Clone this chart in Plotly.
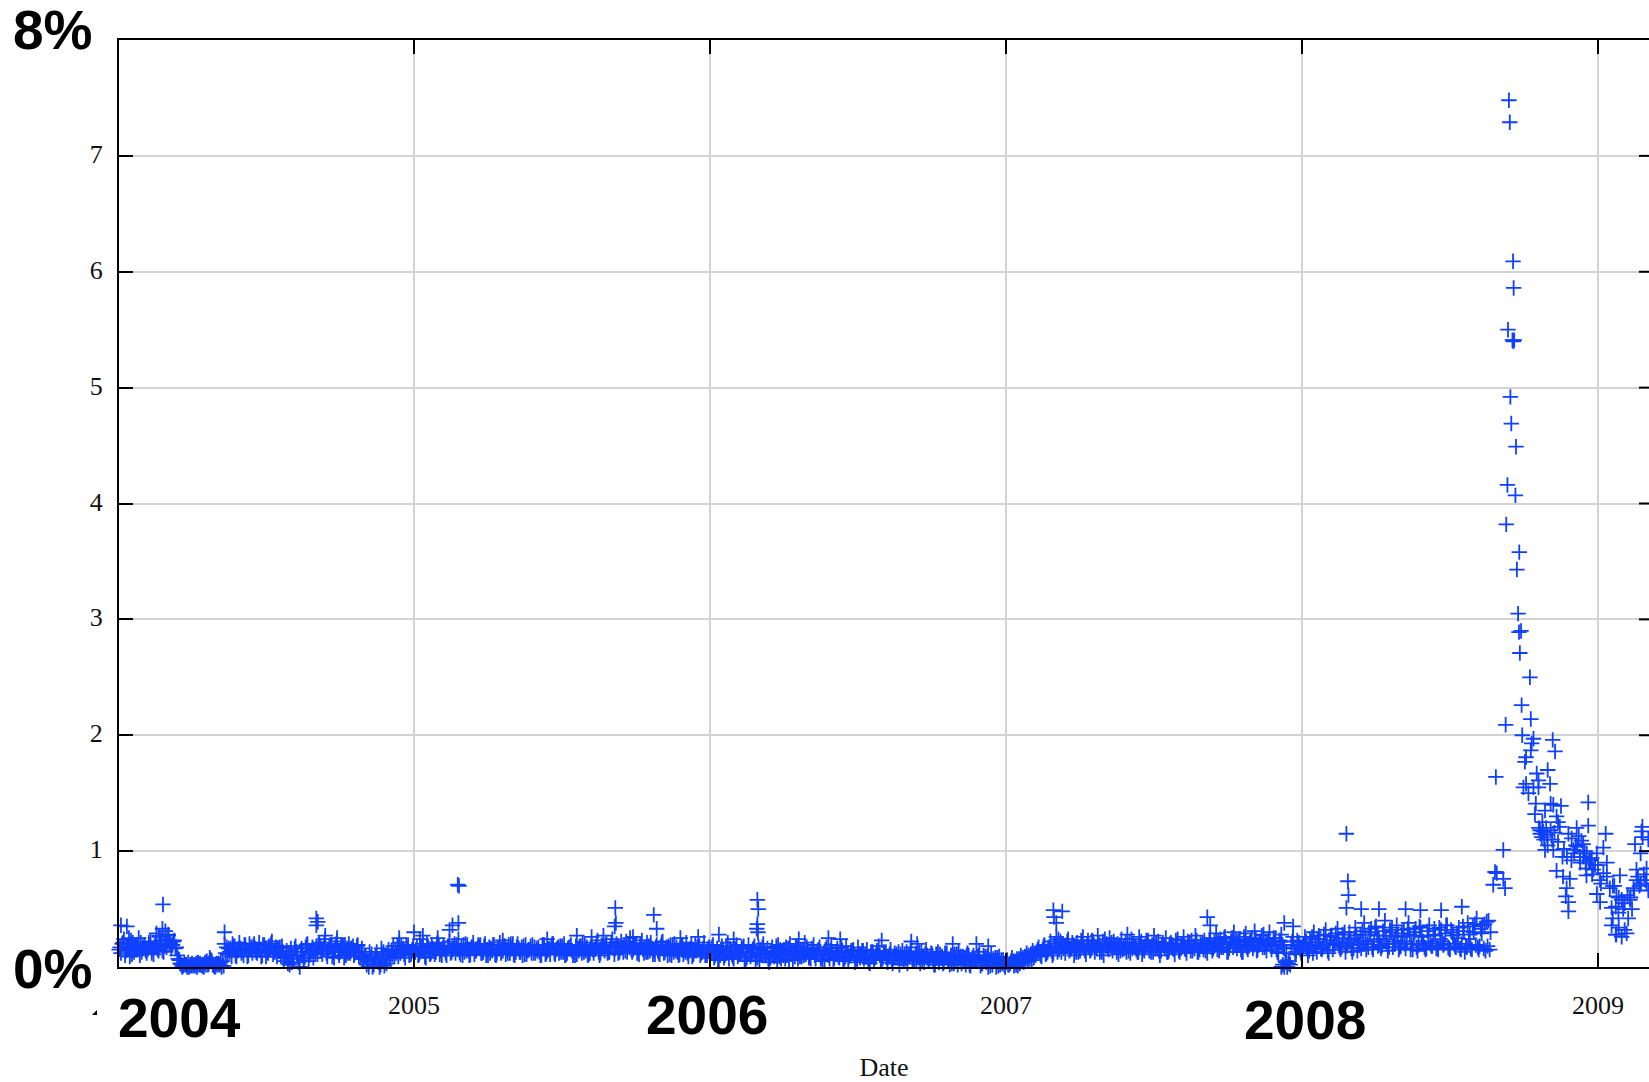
import plotly.graph_objects as go

# Band readings, one value per 0.01 year; three passes through each year at staggered dates
band_2004 = [.19,.12,.24,.16,.09,.21,.17,.25,.13,.19,.15,.22,.11,.18,.26,.14,.2,.27,.16,.23,
             .1,.03,.01,.02,.0,.03,.01,.04,.02,.0,.05,.08,.02,.01,.03,.0,
             .2,.11,.16,.18,.09,.21,.14,.19,.1,.17,.2,.12,.15,.19,.09,.18,.22,.13,.16,.1,
             .05,.14,.02,.1,.18,.04,.16,.08,.2,.12,
             .08,.18,.21,.11,.24,.15,.19,.08,.22,.13,.18,.1,.2,.16,.12,.19,.08,
             .07,.02,.13,.0,.09,.04,.16,.01,.1,
             .08,.18,.12,.21,.14,.08,.19,.11]
band_2005 = [.1,.18,.13,.2,.08,.16,.19,.11,.21,.14,.18,.1,.22,.15,.12,.24,.17,.13,.19,.11,
             .21,.14,.18,.12,.2,.1,.16,.19,.12,.21,.14,.11,.19,.16,.1,.2,.13,.18,.11,.15,
             .19,.12,.17,.1,.19,.14,.11,.2,.15,.12,.18,.1,.16,.19,.13,.11,.18,.21,.14,.11,
             .19,.15,.23,.12,.18,.21,.13,.24,.16,.12,.22,.18,.13,.25,.15,.19,.11,.23,.17,.13,
             .21,.14,.19,.11,.22,.15,.18,.1,.2,.13,.17,.11,.21,.14,.09,.19,.16,.12,.21,.1]
band_2006 = [.08,.19,.13,.06,.18,.1,.21,.14,.07,.19,.11,.16,.05,.19,.12,.18,.08,.15,.2,.1,
             .04,.17,.12,.19,.07,.15,.1,.2,.06,.18,.13,.09,.21,.14,.07,.19,.11,.17,.05,.15,
             .1,.19,.08,.16,.12,.05,.18,.09,.14,.04,.17,.11,.07,.15,.03,.13,.1,.18,.06,.12,
             .04,.15,.08,.11,.02,.14,.07,.1,.17,.05,.12,.03,.09,.15,.06,.11,.02,.13,.08,.04,
             .12,.02,.1,.06,.14,.03,.08,.12,.01,.1,.05,.13,.03,.09,.0,.11,.05,.08,.02,.06]
band_2007 = [.04,.02,.08,.05,.01,.1,.04,.12,.07,.14,.1,.17,.09,.19,.13,.22,.12,.26,.15,.2,
             .12,.24,.16,.1,.21,.14,.26,.11,.18,.23,.13,.27,.16,.1,.2,.25,.14,.18,.11,.24,
             .16,.28,.12,.2,.15,.26,.11,.18,.23,.13,.27,.16,.1,.21,.25,.14,.18,.11,.24,.16,
             .26,.12,.2,.14,.27,.13,.18,.23,.12,.25,.16,.29,.14,.2,.26,.13,.22,.3,.16,.24,
             .13,.29,.18,.25,.31,.15,.22,.28,.14,.3,.19,.25,.12,.28,.16,.0,.02,.26,.13,.21]
band_2008 = [.14,.26,.1,.21,.3,.13,.24,.17,.32,.12,.27,.2,.33,.15,.25,.18,.3,.13,.34,.22,
             .16,.38,.2,.28,.15,.35,.24,.18,.4,.14,.3,.22,.36,.17,.26,.16,.38,.2,.3,.14,
             .34,.22,.16,.36,.18,.28,.15,.32,.2,.36,.15,.27,.17,.34,.2,.13,.38,.16,.3,.42,
             .18,.36,.14,.4]

band2_2004 = [.15,.2,.1,.17,.23,.13,.19,.1,.17,.14,.21,.12,.18,.15,.2,.13,.17,.22,.19,.16,
              .07,.02,.03,.0,.02,.01,.03,.02,.01,.04,.02,.06,.01,.03,.02,.05,
              .12,.16,.09,.18,.14,.16,.1,.15,.2,.12,.16,.15,.09,.19,.13,.16,.11,.17,.14,.18,
              .08,.03,.16,.07,.13,.0,.1,.17,.05,.14,
              .15,.11,.18,.16,.12,.18,.09,.17,.13,.19,.08,.16,.12,.18,.14,.09,.16,
              .1,.05,.08,.02,.13,.0,.11,.06,.15,
              .14,.09,.18,.12,.16,.19,.1,.15]
band2_2005 = [.13,.1,.17,.14,.2,.11,.16,.13,.18,.1,.15,.18,.12,.16,.19,.13,.1,.2,.14,.17,
              .11,.16,.19,.13,.1,.17,.14,.11,.16,.12,.18,.15,.12,.2,.13,.16,.17,.11,.14,.18,
              .12,.16,.13,.19,.11,.15,.17,.12,.16,.18,.13,.11,.17,.14,.1,.16,.18,.13,.17,.12,
              .15,.17,.13,.19,.14,.12,.18,.16,.2,.13,.17,.14,.19,.15,.18,.12,.2,.15,.13,.18,
              .16,.11,.14,.18,.12,.17,.11,.19,.14,.1,.18,.15,.12,.16,.11,.14,.18,.13,.1,.16]
band2_2006 = [.12,.08,.16,.1,.14,.18,.07,.11,.16,.09,.13,.18,.08,.12,.15,.06,.17,.1,.13,.16,
              .08,.11,.18,.09,.14,.07,.16,.11,.13,.18,.09,.15,.11,.08,.16,.1,.14,.07,.12,.17,
              .07,.13,.11,.09,.17,.07,.12,.1,.15,.08,.11,.14,.09,.07,.13,.06,.14,.1,.08,.13,
              .09,.06,.12,.08,.11,.05,.13,.09,.06,.11,.08,.13,.04,.1,.09,.06,.11,.04,.09,.12,
              .05,.1,.03,.11,.07,.09,.02,.1,.05,.07,.09,.01,.1,.04,.06,.02,.08,.01,.06,.02]
band2_2007 = [.06,.03,.05,.02,.07,.06,.09,.05,.11,.08,.13,.12,.15,.11,.17,.14,.2,.13,.22,.16,
              .19,.14,.21,.17,.13,.23,.16,.19,.14,.22,.17,.2,.13,.24,.16,.18,.22,.13,.19,.15,
              .21,.14,.24,.17,.13,.2,.16,.23,.14,.19,.16,.22,.14,.18,.13,.2,.16,.23,.14,.19,
              .16,.22,.14,.18,.23,.15,.21,.14,.19,.17,.22,.15,.24,.17,.21,.16,.25,.19,.22,.15,
              .26,.17,.21,.16,.24,.19,.27,.17,.22,.18,.25,.15,.23,.19,.05,.03,.19,.16,.23,.15]
band2_2008 = [.18,.22,.14,.26,.18,.24,.16,.28,.19,.23,.15,.29,.21,.17,.3,.2,.24,.16,.27,.19,
              .31,.23,.17,.33,.22,.27,.19,.31,.24,.17,.34,.2,.27,.18,.32,.22,.28,.15,.33,.19,
              .26,.17,.31,.2,.27,.16,.34,.22,.29,.17,.32,.2,.28,.16,.35,.18,.24,.15,.37,.17,
              .33,.16,.39,.15]

band3_2004 = [.17,.21,.14,.25,.11,.18,.15,.21,.17,.12,.19,.16,.2,.14,.23,.18,.24,.2,.22,.17,
              .06,.0,.02,.04,.01,.02,.0,.03,.01,.02,.03,.05,.0,.02,.04,.01,
              .17,.13,.2,.1,.16,.12,.19,.09,.15,.18,.13,.21,.1,.16,.12,.2,.14,.09,.17,.13,
              .08,.11,.04,.16,.09,.13,.06,.19,.1,.17,
              .12,.19,.14,.21,.09,.17,.13,.2,.1,.15,.19,.12,.16,.1,.18,.13,.07,
              .09,.0,.11,.05,.07,.02,.13,.03,.08,
              .11,.15,.09,.18,.11,.16,.13,.17]
band3_2005 = [.15,.11,.16,.09,.18,.12,.14,.2,.11,.16,.12,.18,.13,.2,.15,.11,.19,.14,.1,.17,
              .14,.19,.12,.18,.15,.12,.19,.1,.16,.14,.18,.12,.2,.11,.17,.13,.1,.19,.15,.12,
              .17,.14,.1,.19,.12,.16,.2,.11,.17,.13,.2,.12,.16,.1,.18,.14,.12,.19,.1,.16,
              .12,.2,.1,.16,.19,.13,.21,.11,.18,.16,.13,.22,.17,.13,.2,.15,.17,.12,.21,.14,
              .11,.17,.12,.21,.13,.1,.19,.13,.17,.11,.19,.13,.09,.2,.14,.17,.1,.16,.12,.17]
band3_2006 = [.17,.1,.06,.15,.08,.12,.16,.09,.14,.11,.17,.06,.13,.09,.16,.1,.05,.17,.12,.07,
              .14,.09,.05,.15,.1,.17,.06,.13,.09,.07,.15,.1,.17,.09,.13,.07,.15,.09,.06,.11,
              .14,.06,.12,.08,.14,.09,.06,.14,.1,.06,.08,.14,.11,.04,.1,.08,.12,.06,.13,.08,
              .11,.03,.09,.13,.07,.1,.03,.12,.08,.06,.13,.05,.11,.07,.12,.02,.08,.11,.03,.09,
              .07,.03,.11,.02,.09,.05,.1,.02,.08,.05,.1,.03,.06,.09,.01,.07,.0,.09,.03,.0]
band3_2007 = [.02,.05,.01,.07,.03,.08,.07,.1,.06,.12,.15,.1,.18,.12,.16,.1,.18,.24,.13,.17,
              .22,.15,.19,.13,.17,.2,.14,.23,.15,.19,.16,.13,.22,.18,.15,.21,.17,.2,.14,.18,
              .13,.21,.16,.18,.13,.22,.14,.2,.17,.13,.21,.14,.19,.16,.13,.21,.15,.19,.13,.2,
              .15,.18,.23,.16,.13,.2,.15,.19,.23,.14,.19,.22,.17,.25,.13,.2,.17,.23,.19,.13,
              .21,.15,.23,.19,.14,.22,.17,.2,.24,.15,.21,.13,.22,.17,.12,.05,.22,.11,.18,.12]
band3_2008 = [.2,.16,.24,.12,.19,.27,.15,.21,.14,.26,.19,.23,.17,.28,.13,.22,.16,.25,.14,.28,
              .2,.15,.3,.17,.34,.18,.16,.27,.2,.32,.17,.26,.15,.29,.2,.33,.15,.27,.17,.35,
              .2,.15,.27,.18,.33,.17,.24,.19,.36,.16,.3,.18,.25,.15,.31,.17,.28,.35,.19,.15,
              .29,.37,.18,.3]

# Readings above the band
spike_years = [2004.152,2004.01,2004.03,2004.67,2004.675,2004.67,2005.148,2005.152,2005.13,2005.15,2005.12,
               2005.68,2005.682,2005.678,2005.81,2005.82,2006.03,2006.16,2006.163,2006.16,2006.158,2006.162,
               2006.68,2006.9,2007.16,2007.162,2007.19,2007.17,2007.68,2007.69,2007.94,2007.97,
               2008.15,2008.155,2008.157,2008.15,2008.2,2008.26,2008.35,2008.4,2008.47,2008.54,
               2004.15,2004.16,2004.13,2004.36,2005.0,2005.03,2007.93,2007.935,2007.94,2007.945,
               2004.14,2004.17,2004.7,2004.74,2004.95,2005.02,2005.08,2005.3,2005.45,2005.55,2005.6,2005.64,
               2005.74,2005.9,2005.96,2006.08,2006.3,2006.4,2006.44,2006.58,2006.7,2006.82,2006.94]
spike_values = [.54,.36,.35,.42,.39,.36,.71,.7,.36,.38,.32,
                .51,.38,.35,.45,.33,.28,.58,.5,.37,.33,.3,
                .22,.2,.49,.43,.48,.38,.43,.36,.38,.35,
                1.15,.74,.62,.51,.5,.5,.5,.49,.49,.52,
                .33,.31,.29,.3,.3,.27,.0,.02,.0,.04,
                .27,.28,.27,.25,.25,.24,.25,.23,.24,.27,.26,.27,
                .26,.25,.26,.24,.24,.25,.24,.23,.2,.2,.18]

# The 2008 crash and its decay, read one mark at a time
crash_years = [2008.699,2008.702,2008.713,2008.715,2008.696,2008.711,2008.717,2008.714,2008.704,2008.707,
               2008.723,2008.694,2008.721,2008.690,2008.734,2008.726,2008.730,2008.733,2008.740,2008.736,
               2008.770,2008.742,2008.773,2008.688,2008.744,2008.782,2008.776,2008.773,2008.847,2008.855,
               2008.757,2008.753,2008.655,2008.830,2008.793,2008.838,2008.799,2008.748,2008.757,2008.782,
               2008.799,2008.765,2008.790,2008.787,2008.821,2008.840,2008.849,2008.875,2008.967,2008.860,
               2008.871,2008.804,2008.815,2008.827,2008.810,2008.821,2008.849,2008.880,2008.860,2008.882,
               2008.905,2008.894,2008.891,2008.900,2008.900,2008.680,2008.652,2008.658,2008.646,2008.680,
               2008.686,2008.928,2008.967,2008.944,2008.911,2008.950,2009.026,2009.018,2008.917,2008.939,
               2008.962,2008.979,2008.996,2008.984,2009.018,2009.074,2009.007,2008.961,2008.996,2009.007,
               2009.040,2009.062,2009.080,2009.046,2009.069,2009.102,2009.046,2009.062,2009.080,2009.097,
               2009.108,2009.122,2009.145,2009.130,2009.164,2009.125,2009.147,2009.151,2009.150,2009.144,
               2009.164,2009.170,2009.170,2009.090,2009.115,2008.990,2008.975,2009.030,2009.055,2009.135,
               2008.935,2008.955,2008.925,2008.958,2008.90,2008.865,
               2008.80,2008.805,2008.812,2008.818,2008.825,2008.83,2008.84,2008.845,2008.853,2008.865,
               2008.885,2008.895,2008.91,2008.92,2008.93,2008.94,2008.95,2008.96,2008.97,2008.98,
               2009.0,2009.01,2009.03,2009.05,2009.06,2009.07,2009.085,2009.10,2009.11,2009.12,
               2009.13,2009.14,2009.155,2009.16,2009.05,2009.07,2009.09,2009.06]
crash_values = [7.48,7.29,6.09,5.86,5.50,5.41,5.41,5.40,4.92,4.69,
                4.49,4.16,4.07,3.82,3.58,3.43,3.05,2.89,2.90,2.71,
                2.50,2.26,2.14,2.09,2.00,1.97,1.93,1.87,1.96,1.86,
                1.81,1.77,1.64,1.70,1.67,1.58,1.61,1.55,1.58,1.55,
                1.55,1.50,1.41,1.32,1.35,1.41,1.40,1.39,1.42,1.30,
                1.21,1.18,1.17,1.14,1.12,1.01,1.01,.95,.83,.78,
                .76,.68,.61,.56,.48,1.01,.82,.81,.71,.76,
                .68,1.20,1.22,1.09,1.11,1.06,1.15,1.03,1.01,.95,
                .98,.94,.98,.84,.81,.79,.75,.79,.63,.56,
                .68,.61,.58,.51,.47,.42,.36,.28,.26,.29,
                .58,.66,.72,.84,.85,1.06,1.17,1.12,1.21,.98,
                .72,.66,1.1,.55,.5,.88,.92,.9,.7,.78,
                1.13,1.0,1.05,.9,1.15,1.25,
                1.2,1.15,1.25,1.1,1.2,1.05,1.18,1.1,1.16,1.08,
                1.02,.95,.92,.98,1.04,.9,.95,.85,.92,.8,
                .88,.72,.78,.7,.52,.6,.5,.62,.6,.68,
                .75,.7,.8,.75,.42,.34,.32,.28]

x_ticks = [2004,2005,2006,2007,2008,2009]
x_tick_text = ["","2005","","2007","","2009"]
y_ticks = [0,1,2,3,4,5,6,7,8]
y_tick_text = ["","1","2","3","4","5","6","7",""]
big_labels = ["8%","0%","2004","2006","2008"]

# layout, in page pixels
W,H = 1649,1082
L,T,B = 119,40,967
YEAR_PX = 296
def px(x): return (x-L)/(W-L)
def py(y): return (B-y)/(B-T)

xs,ys = [],[]
passes = [
    (0.0,  [(2004,band_2004),(2005,band_2005),(2006,band_2006),(2007,band_2007),(2008,band_2008)]),
    (0.004,[(2004,band2_2004),(2005,band2_2005),(2006,band2_2006),(2007,band2_2007),(2008,band2_2008)]),
    (0.007,[(2004,band3_2004),(2005,band3_2005),(2006,band3_2006),(2007,band3_2007),(2008,band3_2008)]),
]
for lag,years in passes:
    for start,vals in years:
        xs += [start+lag+i*0.01 for i in range(len(vals))]
        ys += vals
xs += spike_years+crash_years
ys += spike_values+crash_values

fig = go.Figure(go.Scatter(x=xs,y=ys,mode="markers",cliponaxis=False,
    marker=dict(symbol="cross-thin",size=11,line=dict(color="#1040ff",width=1.8))))

serif = dict(family="Liberation Serif",size=26,color="#111")
fig.update_layout(width=W,height=H,margin=dict(l=L,r=0,t=T,b=H-B,autoexpand=False),
    paper_bgcolor="white",plot_bgcolor="white",showlegend=False,font=serif)
x_start = 2004+1/YEAR_PX
fig.update_xaxes(range=[x_start,x_start+(W-L)/YEAR_PX],tickmode="array",tickvals=x_ticks,ticktext=x_tick_text,
    ticks="inside",ticklen=14,tickwidth=2,tickcolor="black",showline=True,linecolor="black",linewidth=2,
    mirror="ticks",showgrid=True,gridcolor="#d3d3d3",gridwidth=2,zeroline=False,tickfont=serif,
    ticklabelstandoff=14,title=dict(text="Date",font=serif,standoff=52))
fig.update_yaxes(range=[0,8],tickmode="array",tickvals=y_ticks,ticktext=y_tick_text,
    ticks="inside",ticklen=14,tickwidth=2,tickcolor="black",showline=True,linecolor="black",linewidth=2,
    showgrid=True,gridcolor="#d3d3d3",gridwidth=2,zeroline=False,tickfont=serif,ticklabelstandoff=9,ticklabelshift=-2)

# right-hand tick stubs of the frame that runs off the page
for v in y_ticks[1:-1]:
    fig.add_shape(type="line",xref="paper",yref="y",x0=px(1639),x1=1,y0=v,y1=v,
                  line=dict(color="black",width=2),layer="above")
# sliver of a hidden tick label
fig.add_shape(type="path",xref="paper",yref="paper",
    path=f"M {px(92)} {py(1015)} L {px(97)} {py(1010)} L {px(97)} {py(1015)} Z",
    fillcolor="black",line=dict(width=0))

bold = dict(family="Liberation Sans",size=55,color="black")
for text,x,y in zip(big_labels,[13,13,118,646,1244],[30,969,1018,1015,1020]):
    fig.add_annotation(text=f"<b>{text}</b>",xref="paper",yref="paper",x=px(x),y=py(y),
                       xanchor="left",yanchor="middle",showarrow=False,font=bold,borderpad=0,borderwidth=0)

fig.write_html("out.html",config={"displayModeBar":False},
               post_script="document.body.style.margin='0';document.body.style.overflow='hidden';")
